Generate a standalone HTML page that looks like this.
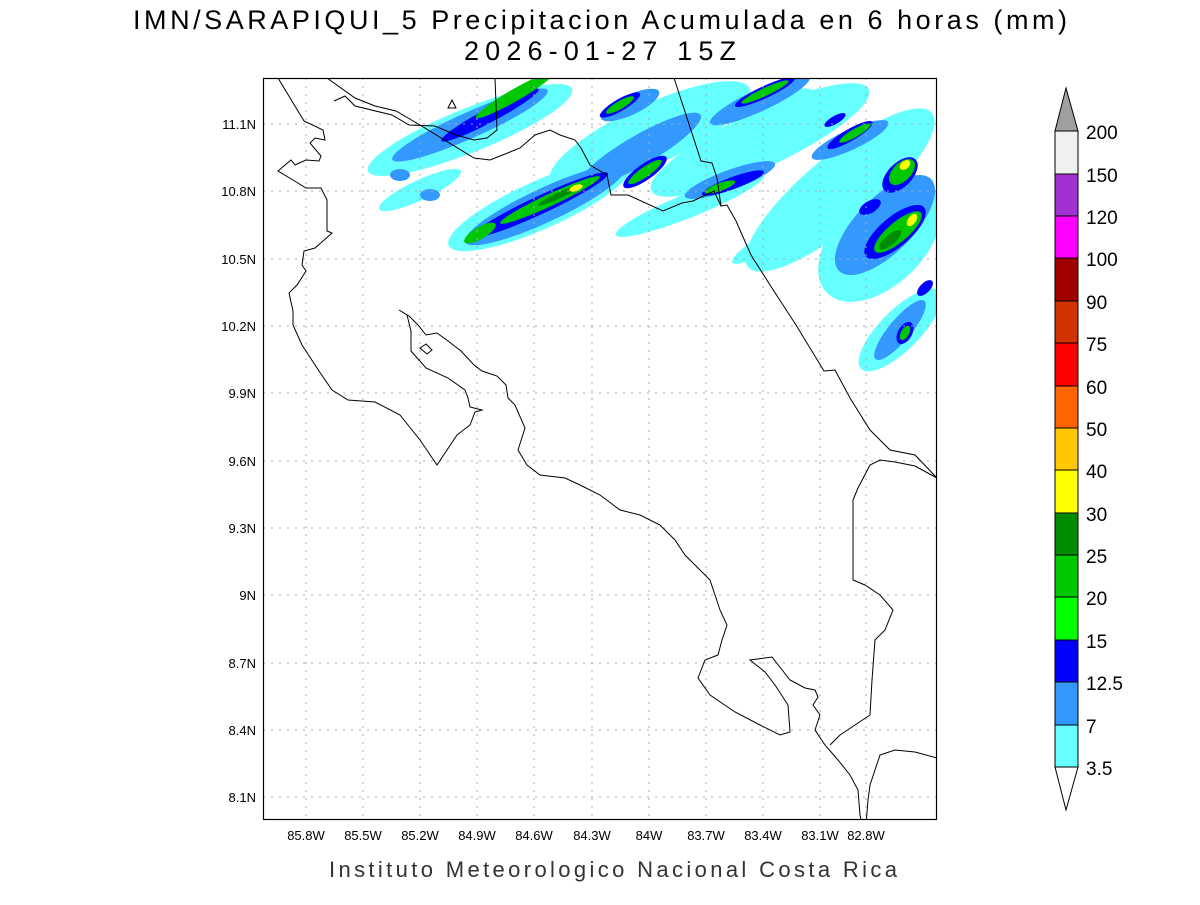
<!DOCTYPE html>
<html><head><meta charset="utf-8"><style>
body{margin:0;background:#fff;width:1200px;height:900px;overflow:hidden}
svg text{font-family:"Liberation Sans",sans-serif}
</style></head><body>
<svg width="1200" height="900" xmlns="http://www.w3.org/2000/svg">
<text x="600" y="29" text-anchor="middle" font-size="27" fill="#000" textLength="934" lengthAdjust="spacing">IMN/SARAPIQUI_5 Precipitacion Acumulada en 6 horas (mm)</text>
<text x="600" y="60" text-anchor="middle" font-size="27" fill="#000" textLength="272" lengthAdjust="spacing">2026-01-27 15Z</text>
<defs><clipPath id="c"><rect x="263" y="78" width="674" height="742"/></clipPath></defs>
<g clip-path="url(#c)">
<g>
<g fill="#66ffff">
<ellipse cx="470" cy="130" rx="110" ry="22" transform="rotate(-22 470 130)"/>
<ellipse cx="540" cy="205" rx="100" ry="24" transform="rotate(-24 540 205)"/>
<ellipse cx="650" cy="135" rx="110" ry="30" transform="rotate(-25 650 135)"/>
<ellipse cx="760" cy="140" rx="120" ry="28" transform="rotate(-25 760 140)"/>
<ellipse cx="690" cy="205" rx="80" ry="12" transform="rotate(-22 690 205)"/>
<ellipse cx="840" cy="190" rx="120" ry="35" transform="rotate(-40 840 190)"/>
<ellipse cx="880" cy="240" rx="75" ry="45" transform="rotate(-45 880 240)"/>
<ellipse cx="900" cy="330" rx="55" ry="20" transform="rotate(-45 900 330)"/>
<ellipse cx="420" cy="190" rx="45" ry="10" transform="rotate(-25 420 190)"/>
<ellipse cx="780" cy="235" rx="55" ry="10" transform="rotate(-30 780 235)"/>
<ellipse cx="790" cy="105" rx="30" ry="14" transform="rotate(-20 790 105)"/>
</g>
<g fill="#3399ff">
<ellipse cx="470" cy="125" rx="85" ry="13" transform="rotate(-24 470 125)"/>
<ellipse cx="545" cy="205" rx="88" ry="17" transform="rotate(-25 545 205)"/>
<ellipse cx="640" cy="150" rx="70" ry="15" transform="rotate(-30 640 150)"/>
<ellipse cx="630" cy="105" rx="32" ry="10" transform="rotate(-25 630 105)"/>
<ellipse cx="760" cy="100" rx="55" ry="11" transform="rotate(-25 760 100)"/>
<ellipse cx="730" cy="180" rx="48" ry="10" transform="rotate(-20 730 180)"/>
<ellipse cx="850" cy="140" rx="42" ry="10" transform="rotate(-25 850 140)"/>
<ellipse cx="885" cy="225" rx="65" ry="28" transform="rotate(-45 885 225)"/>
<ellipse cx="900" cy="330" rx="38" ry="11" transform="rotate(-50 900 330)"/>
<ellipse cx="400" cy="175" rx="10" ry="6"/>
<ellipse cx="430" cy="195" rx="10" ry="6"/>
</g>
<g fill="#0000ff">
<ellipse cx="490" cy="115" rx="55" ry="7" transform="rotate(-28 490 115)"/>
<ellipse cx="540" cy="205" rx="75" ry="9" transform="rotate(-25 540 205)"/>
<ellipse cx="645" cy="172" rx="26" ry="8" transform="rotate(-35 645 172)"/>
<ellipse cx="620" cy="105" rx="23" ry="6" transform="rotate(-30 620 105)"/>
<ellipse cx="765" cy="92" rx="33" ry="6" transform="rotate(-25 765 92)"/>
<ellipse cx="733" cy="183" rx="33" ry="6" transform="rotate(-20 733 183)"/>
<ellipse cx="850" cy="135" rx="26" ry="6" transform="rotate(-30 850 135)"/>
<ellipse cx="835" cy="120" rx="12" ry="4" transform="rotate(-30 835 120)"/>
<ellipse cx="900" cy="175" rx="22" ry="12" transform="rotate(-45 900 175)"/>
<ellipse cx="895" cy="232" rx="38" ry="15" transform="rotate(-40 895 232)"/>
<ellipse cx="870" cy="207" rx="12" ry="6" transform="rotate(-30 870 207)"/>
<ellipse cx="905" cy="333" rx="12" ry="7" transform="rotate(-60 905 333)"/>
<ellipse cx="925" cy="288" rx="10" ry="5" transform="rotate(-45 925 288)"/>
</g>
<g fill="#00c800">
<ellipse cx="515" cy="95" rx="45" ry="6" transform="rotate(-30 515 95)"/>
<ellipse cx="550" cy="200" rx="55" ry="6" transform="rotate(-25 550 200)"/>
<ellipse cx="480" cy="233" rx="18" ry="6" transform="rotate(-30 480 233)"/>
<ellipse cx="645" cy="172" rx="20" ry="5" transform="rotate(-35 645 172)"/>
<ellipse cx="620" cy="105" rx="16" ry="4" transform="rotate(-30 620 105)"/>
<ellipse cx="765" cy="92" rx="26" ry="4" transform="rotate(-25 765 92)"/>
<ellipse cx="720" cy="187" rx="16" ry="4" transform="rotate(-20 720 187)"/>
<ellipse cx="855" cy="133" rx="18" ry="4" transform="rotate(-30 855 133)"/>
<ellipse cx="902" cy="172" rx="16" ry="9" transform="rotate(-45 902 172)"/>
<ellipse cx="898" cy="232" rx="30" ry="10" transform="rotate(-40 898 232)"/>
<ellipse cx="905" cy="333" rx="8" ry="4" transform="rotate(-60 905 333)"/>
</g>
<g fill="#008c00">
<ellipse cx="560" cy="195" rx="25" ry="3" transform="rotate(-25 560 195)"/>
<ellipse cx="890" cy="240" rx="14" ry="5" transform="rotate(-40 890 240)"/>
</g>
<g fill="#ffff00">
<ellipse cx="576" cy="188" rx="7" ry="3" transform="rotate(-20 576 188)"/>
<ellipse cx="905" cy="165" rx="6" ry="4" transform="rotate(-40 905 165)"/>
<ellipse cx="912" cy="220" rx="7" ry="4" transform="rotate(-55 912 220)"/>
</g>
</g>
<g stroke="#aaa" stroke-width="1" stroke-dasharray="2,6">
<line x1="306" y1="78" x2="306" y2="820"/><line x1="363" y1="78" x2="363" y2="820"/><line x1="420" y1="78" x2="420" y2="820"/><line x1="477" y1="78" x2="477" y2="820"/><line x1="534" y1="78" x2="534" y2="820"/><line x1="592" y1="78" x2="592" y2="820"/><line x1="649" y1="78" x2="649" y2="820"/><line x1="706" y1="78" x2="706" y2="820"/><line x1="763" y1="78" x2="763" y2="820"/><line x1="820" y1="78" x2="820" y2="820"/><line x1="866" y1="78" x2="866" y2="820"/>
<line x1="263" y1="124" x2="937" y2="124"/><line x1="263" y1="191" x2="937" y2="191"/><line x1="263" y1="259" x2="937" y2="259"/><line x1="263" y1="326" x2="937" y2="326"/><line x1="263" y1="393" x2="937" y2="393"/><line x1="263" y1="461" x2="937" y2="461"/><line x1="263" y1="528" x2="937" y2="528"/><line x1="263" y1="595" x2="937" y2="595"/><line x1="263" y1="663" x2="937" y2="663"/><line x1="263" y1="730" x2="937" y2="730"/><line x1="263" y1="797" x2="937" y2="797"/>
</g>
<g fill="none" stroke="#000" stroke-width="1">
<polyline points="278,78 304,121 323,130 325,140 315,138 310,143 321,156 319,161 306,160 295,165 291,160 278,171 293,180 306,188 321,188 327,200 327,231 332,233 323,241 315,248 304,251 302,265 306,271 297,285 289,293 293,311 293,325 302,345 319,371 332,390 348,400 375,402 400,415 420,440 437,465 447,450 457,435 470,425 475,412 482,410 470,407 468,398 465,390 448,378 426,368 411,351 411,331 407,315 399,310 409,316 418,325 426,335 437,333 448,341 461,351 474,365 482,371 497,376 506,385 508,398 515,405 525,428 518,450 527,465 540,475 565,478 580,485 600,495 620,510 640,515 660,525 675,540 685,555 700,570 710,580 715,595 720,610 727,625 722,640 718,655 705,660 698,678 710,695 735,712 760,725 780,735 790,732 788,705 775,685 765,672 750,660 772,657 790,680 805,688 815,690 818,697 813,705 820,715 815,730 825,745 838,760 850,775 858,790 860,815 862,825"/>
<polygon points="420,348 426,344 432,350 427,354"/>
<polyline points="866,825 868,800 870,785 880,755 895,750 915,752 937,758"/>
<polyline points="830,745 840,735 855,725 870,715 872,680 875,640 885,630 893,610 880,595 865,585 853,580 853,500 858,488 870,465 880,460 895,462 915,466 937,478"/>
<polyline points="327,78 355,98 375,106 396,111 420,125 474,158 490,160 520,148 535,135 550,130 560,135 575,140 581,148 590,165 607,175 611,195 628,195 663,211 682,203 693,201 714,191 721,206"/>
<polyline points="334,101 345,96 355,106 392,115 409,125 435,126 456,135 474,140 487,138 497,130 495,78"/>
<polyline points="674,78 701,161 712,163 717,178 721,206 727,205 736,221 751,255 770,285 796,325 824,371 835,370 850,398 870,430 890,450 915,455 937,478"/>
<polygon points="448,108 452,100 456,108"/>
</g>
</g>
<rect x="263.5" y="78.5" width="673" height="741" fill="none" stroke="#000" stroke-width="1.2"/>
<g font-size="13" fill="#000" text-anchor="end">
<text x="256" y="129">11.1N</text><text x="256" y="196">10.8N</text><text x="256" y="264">10.5N</text><text x="256" y="331">10.2N</text><text x="256" y="398">9.9N</text><text x="256" y="466">9.6N</text><text x="256" y="533">9.3N</text><text x="256" y="600">9N</text><text x="256" y="668">8.7N</text><text x="256" y="735">8.4N</text><text x="256" y="802">8.1N</text>
</g>
<g font-size="13" fill="#000" text-anchor="middle">
<text x="306" y="840">85.8W</text><text x="363" y="840">85.5W</text><text x="420" y="840">85.2W</text><text x="477" y="840">84.9W</text><text x="534" y="840">84.6W</text><text x="592" y="840">84.3W</text><text x="649" y="840">84W</text><text x="706" y="840">83.7W</text><text x="763" y="840">83.4W</text><text x="820" y="840">83.1W</text><text x="866" y="840">82.8W</text>
</g>
<text x="613" y="877" text-anchor="middle" font-size="22" fill="#333" textLength="568" lengthAdjust="spacing">Instituto Meteorologico Nacional Costa Rica</text>
<g stroke="#000" stroke-width="1">
<polygon points="1055,131 1078,131 1066,88" fill="#a0a0a0"/>
<rect x="1055" y="131" width="23" height="43" fill="#f0f0f0"/>
<rect x="1055" y="174" width="23" height="42" fill="#a032d2"/>
<rect x="1055" y="216" width="23" height="42" fill="#ff00ff"/>
<rect x="1055" y="258" width="23" height="43" fill="#a00000"/>
<rect x="1055" y="301" width="23" height="42" fill="#d03200"/>
<rect x="1055" y="343" width="23" height="43" fill="#ff0000"/>
<rect x="1055" y="386" width="23" height="42" fill="#ff6400"/>
<rect x="1055" y="428" width="23" height="42" fill="#ffc800"/>
<rect x="1055" y="470" width="23" height="43" fill="#ffff00"/>
<rect x="1055" y="513" width="23" height="42" fill="#008c00"/>
<rect x="1055" y="555" width="23" height="42" fill="#00c800"/>
<rect x="1055" y="597" width="23" height="43" fill="#00ff00"/>
<rect x="1055" y="640" width="23" height="42" fill="#0000ff"/>
<rect x="1055" y="682" width="23" height="43" fill="#3399ff"/>
<rect x="1055" y="725" width="23" height="42" fill="#66ffff"/>
<polygon points="1055,767 1078,767 1066,810" fill="#fff"/>
</g>
<g font-size="19" fill="#000">
<text x="1086" y="139">200</text><text x="1086" y="182">150</text><text x="1086" y="224">120</text><text x="1086" y="266">100</text><text x="1086" y="309">90</text><text x="1086" y="351">75</text><text x="1086" y="394">60</text><text x="1086" y="436">50</text><text x="1086" y="478">40</text><text x="1086" y="521">30</text><text x="1086" y="563">25</text><text x="1086" y="605">20</text><text x="1086" y="648">15</text><text x="1086" y="690">12.5</text><text x="1086" y="733">7</text><text x="1086" y="775">3.5</text>
</g>
</svg>
</body></html>
